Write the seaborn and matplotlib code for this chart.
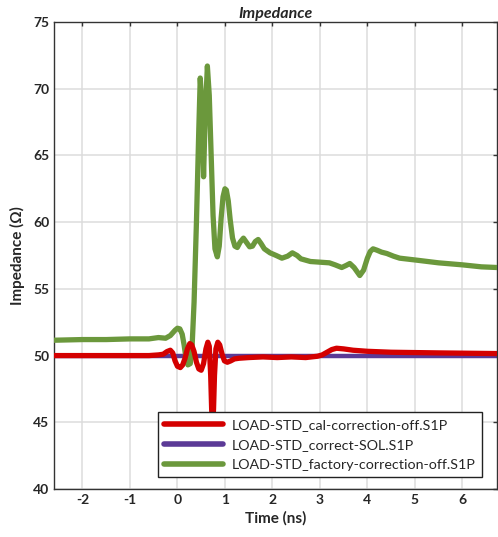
import numpy as np
import pandas as pd
import matplotlib
matplotlib.use("Agg")
import matplotlib.pyplot as plt
import seaborn as sns
from matplotlib.lines import Line2D

# ---- data ----
red_x = [-2.6, -2.0, -1.5, -1.0, -0.6, -0.4, -0.3, -0.22, -0.15, -0.1, -0.05, 0.0, 0.06, 0.11,
         0.16, 0.21, 0.26, 0.3, 0.35, 0.4, 0.45, 0.5, 0.55, 0.6, 0.64, 0.67, 0.7, 0.72, 0.74,
         0.76, 0.78, 0.81, 0.85, 0.89, 0.94, 0.99, 1.05, 1.12, 1.2, 1.3, 1.5, 1.8, 2.1, 2.4,
         2.7, 2.95, 3.05, 3.15, 3.25, 3.35, 3.5, 3.7, 4.0, 4.5, 5.5, 6.73]
red_y = [50.0, 50.0, 50.0, 50.0, 50.0, 50.05, 50.1, 50.3, 50.4, 50.2, 49.6, 49.2, 49.1, 49.3,
         49.8, 50.5, 50.9, 50.8, 50.3, 49.5, 49.0, 48.9, 49.4, 50.5, 51.0, 50.7, 48.5, 46.0, 44.5,
         46.0, 48.5, 50.5, 51.0, 50.8, 50.1, 49.6, 49.5, 49.6, 49.75, 49.8, 49.85, 49.9, 49.85, 49.9,
         49.85, 49.95, 50.05, 50.25, 50.45, 50.55, 50.5, 50.4, 50.32, 50.25, 50.2, 50.15]

purple_x = [-2.6, -1.0, 0.0, 1.0, 2.0, 3.0, 4.0, 5.0, 6.0, 6.73]
purple_y = [50.0, 50.0, 50.0, 50.0, 50.0, 50.0, 50.0, 50.0, 50.0, 50.0]

green_x = [-2.6, -2.0, -1.5, -1.0, -0.6, -0.4, -0.25, -0.15, -0.05, 0.0, 0.05, 0.1, 0.14, 0.18,
           0.22, 0.27, 0.31, 0.35, 0.4, 0.45, 0.48, 0.52, 0.55, 0.58, 0.63, 0.67, 0.71, 0.75,
           0.79, 0.84, 0.88, 0.92, 0.96, 1.0, 1.03, 1.07, 1.11, 1.16, 1.21, 1.26, 1.32, 1.39,
           1.45, 1.52, 1.58, 1.64, 1.7, 1.76, 1.83, 1.95, 2.08, 2.2, 2.32, 2.42, 2.52, 2.6, 2.8,
           3.0, 3.2, 3.32, 3.46, 3.55, 3.63, 3.72, 3.84, 3.92, 4.0, 4.06, 4.12, 4.2, 4.3, 4.41,
           4.55, 4.68, 5.04, 5.5, 6.0, 6.4, 6.73]
green_y = [51.15, 51.2, 51.2, 51.25, 51.25, 51.35, 51.3, 51.5, 51.9, 52.05, 52.0, 51.6, 50.8, 49.8,
           49.3, 49.4, 50.8, 54.0, 60.0, 67.0, 70.8, 68.5, 63.4, 67.5, 71.7, 69.5, 65.0, 60.5,
           58.0, 57.4, 58.2, 60.3, 61.9, 62.5, 62.4, 61.6, 60.2, 58.8, 58.2, 58.1, 58.5, 58.8,
           58.5, 58.15, 58.2, 58.55, 58.7, 58.4, 58.0, 57.7, 57.5, 57.3, 57.45, 57.7, 57.5, 57.25, 57.05,
           57.0, 56.95, 56.8, 56.6, 56.75, 56.9, 56.6, 56.0, 56.4, 57.3, 57.8, 58.0, 57.9, 57.75, 57.65,
           57.45, 57.3, 57.15, 56.95, 56.8, 56.65, 56.6]

series_names = ["LOAD-STD_cal-correction-off.S1P",
                "LOAD-STD_correct-SOL.S1P",
                "LOAD-STD_factory-correction-off.S1P"]
x_ticks = [-2, -1, 0, 1, 2, 3, 4, 5, 6]
y_ticks = [40, 45, 50, 55, 60, 65, 70, 75]

df = pd.concat([
    pd.DataFrame({"t": red_x, "z": red_y, "s": series_names[0]}),
    pd.DataFrame({"t": purple_x, "z": purple_y, "s": series_names[1]}),
    pd.DataFrame({"t": green_x, "z": green_y, "s": series_names[2]}),
])

sns.set_style("white")
plt.rcParams['font.family'] = ['Lato', 'DejaVu Sans']
plt.rcParams['axes.unicode_minus'] = False

colors = {series_names[0]: "#d40000", series_names[1]: "#5b3a96", series_names[2]: "#6b983c"}

fig = plt.figure(figsize=(4.98, 5.37), dpi=100)
ax = fig.add_axes([54/498, 1-489/537, (497-54)/498, (489-22)/537])

sns.lineplot(data=df[df.s == series_names[1]], x="t", y="z", hue="s", palette=colors,
             ax=ax, linewidth=3.2, zorder=2, estimator=None, sort=False, legend=False)
sns.lineplot(data=df[df.s == series_names[2]], x="t", y="z", hue="s", palette=colors,
             ax=ax, linewidth=3.8, zorder=3, estimator=None, sort=False, legend=False)
sns.lineplot(data=df[df.s == series_names[0]], x="t", y="z", hue="s", palette=colors,
             ax=ax, linewidth=3.8, zorder=4, estimator=None, sort=False, legend=False)
for ln in ax.get_lines():
    ln.set_solid_joinstyle("round")
    ln.set_solid_capstyle("round")

ax.set_xlim(-2.6, 6.73)
ax.set_ylim(40, 75)
ax.set_xticks(x_ticks)
ax.set_yticks(y_ticks)
ax.grid(True, color="#dcdcdc", linewidth=1.1)
ax.set_axisbelow(True)
ax.tick_params(direction="in", length=3, width=1, color="#333333",
               top=True, right=True, labelsize=10)
for lab in ax.get_xticklabels() + ax.get_yticklabels():
    lab.set_fontweight("bold")
for sp in ax.spines.values():
    sp.set_color("#333333")
    sp.set_linewidth(1.0)

ax.set_xlabel("Time (ns)", fontsize=11, fontweight="bold", labelpad=4)
ax.set_ylabel("Impedance (Ω)", fontsize=11, fontweight="bold", labelpad=6)
ax.set_title("Impedance", fontsize=11.5, fontweight="bold", fontstyle="italic", pad=3)

handles = [Line2D([0], [0], color=colors[n], linewidth=4) for n in series_names]
leg = ax.legend(handles, series_names, loc="lower right",
                bbox_to_anchor=(0.966, 0.0257), borderaxespad=0, fontsize=10.3,
                handlelength=4.1, handletextpad=0.6, labelspacing=0.55,
                frameon=True, fancybox=False, edgecolor="#222222", framealpha=1,
                borderpad=0.45)
leg.get_frame().set_linewidth(1.0)
leg.set_zorder(10)

fig.savefig("out.png", dpi=100)
